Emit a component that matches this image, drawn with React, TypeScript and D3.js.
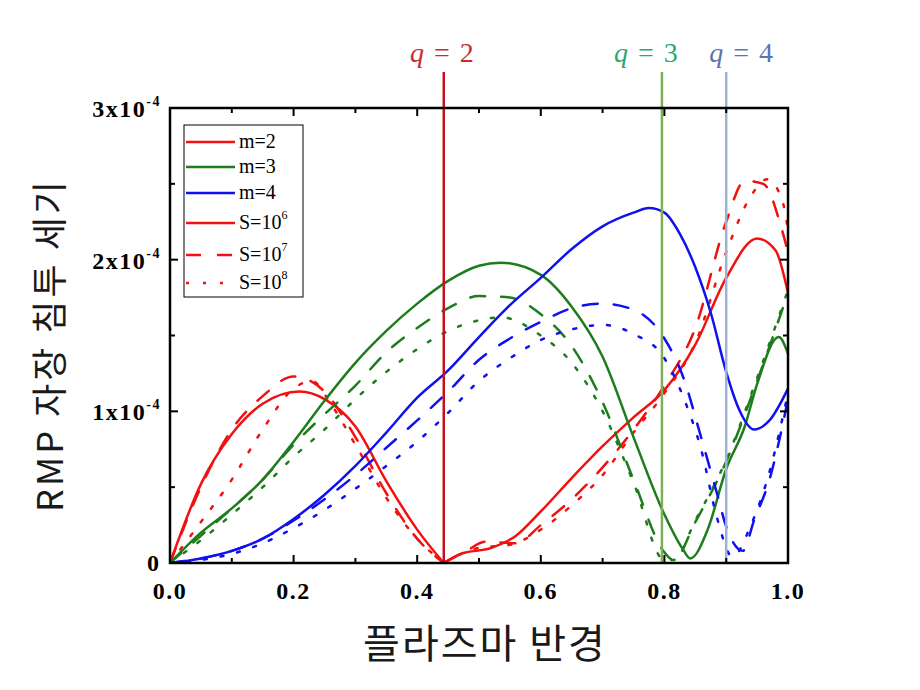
import React from 'react';
import * as d3 from 'd3';

// values in units of 1e-4, x = normalized plasma radius
const m2S6: [number, number][] = [
  [0, 0], [0.05, 0.52], [0.1, 0.85], [0.15, 1.05], [0.21, 1.13], [0.25, 1.08], [0.3, 0.9], [0.35, 0.54], [0.4, 0.22], [0.443, 0],
  [0.47, 0.06], [0.52, 0.1], [0.56, 0.18], [0.6, 0.34], [0.65, 0.56], [0.7, 0.77], [0.75, 0.96], [0.8, 1.14], [0.85, 1.44],
  [0.9, 1.88], [0.95, 2.14], [0.98, 2.06], [1.0, 1.78],
];
const m2S7: [number, number][] = [
  [0, 0], [0.05, 0.5], [0.1, 0.88], [0.15, 1.1], [0.2, 1.23], [0.25, 1.13], [0.3, 0.83], [0.35, 0.46], [0.4, 0.16], [0.443, 0],
  [0.48, 0.08], [0.51, 0.14], [0.56, 0.13], [0.6, 0.25], [0.65, 0.42], [0.7, 0.63], [0.75, 0.88], [0.8, 1.17], [0.85, 1.55],
  [0.9, 2.25], [0.93, 2.52], [0.96, 2.5], [0.99, 2.2], [1.0, 2.05],
];
const m2S8: [number, number][] = [
  [0, 0], [0.05, 0.27], [0.1, 0.55], [0.15, 0.88], [0.2, 1.15], [0.23, 1.2], [0.26, 1.05], [0.3, 0.78], [0.35, 0.43], [0.4, 0.16], [0.443, 0],
  [0.5, 0.1], [0.55, 0.12], [0.6, 0.22], [0.65, 0.38], [0.7, 0.58], [0.75, 0.86], [0.8, 1.12], [0.85, 1.45],
  [0.9, 2.05], [0.94, 2.42], [0.966, 2.53], [0.99, 2.4], [1.0, 2.2],
];
const m3S6: [number, number][] = [
  [0, 0], [0.05, 0.2], [0.1, 0.36], [0.15, 0.55], [0.2, 0.8], [0.25, 1.07], [0.3, 1.32], [0.35, 1.53], [0.4, 1.71], [0.45, 1.86],
  [0.5, 1.96], [0.535, 1.98], [0.6, 1.9], [0.65, 1.69], [0.7, 1.36], [0.75, 0.83], [0.8, 0.32], [0.83, 0.09], [0.842, 0.03],
  [0.87, 0.22], [0.9, 0.62], [0.93, 0.9], [0.95, 1.18], [0.985, 1.49], [1.0, 1.38],
];
const m3S7: [number, number][] = [
  [0, 0], [0.05, 0.18], [0.1, 0.36], [0.15, 0.55], [0.2, 0.78], [0.25, 0.98], [0.3, 1.17], [0.35, 1.39], [0.4, 1.55], [0.45, 1.68],
  [0.5, 1.76], [0.55, 1.75], [0.6, 1.64], [0.65, 1.43], [0.7, 1.06], [0.75, 0.55], [0.8, 0.07], [0.815, 0.02],
  [0.85, 0.27], [0.9, 0.67], [0.95, 1.2], [1.0, 1.78],
];
const m3S8: [number, number][] = [
  [0, 0], [0.05, 0.15], [0.1, 0.32], [0.15, 0.5], [0.2, 0.7], [0.25, 0.88], [0.3, 1.08], [0.35, 1.26], [0.4, 1.41], [0.45, 1.53],
  [0.5, 1.6], [0.535, 1.62], [0.6, 1.5], [0.65, 1.32], [0.7, 1.0], [0.75, 0.53], [0.8, 0.02], [0.815, 0.02],
  [0.85, 0.28], [0.9, 0.68], [0.95, 1.22], [1.0, 1.8],
];
const m4S6: [number, number][] = [
  [0, 0], [0.05, 0.03], [0.1, 0.08], [0.15, 0.16], [0.2, 0.29], [0.25, 0.45], [0.3, 0.64], [0.35, 0.86], [0.4, 1.09], [0.45, 1.27],
  [0.5, 1.49], [0.55, 1.7], [0.6, 1.88], [0.65, 2.07], [0.7, 2.22], [0.75, 2.31], [0.775, 2.34], [0.8, 2.31], [0.825, 2.17],
  [0.85, 1.95], [0.875, 1.65], [0.9, 1.26], [0.92, 1.02], [0.945, 0.88], [0.97, 0.94], [1.0, 1.15],
];
const m4S7: [number, number][] = [
  [0, 0], [0.05, 0.03], [0.1, 0.08], [0.15, 0.16], [0.2, 0.28], [0.25, 0.42], [0.3, 0.58], [0.35, 0.76], [0.4, 0.94], [0.45, 1.13],
  [0.5, 1.34], [0.55, 1.48], [0.6, 1.59], [0.65, 1.68], [0.7, 1.71], [0.75, 1.67], [0.8, 1.48], [0.83, 1.23], [0.86, 0.82],
  [0.885, 0.46], [0.9, 0.24], [0.927, 0.08], [0.945, 0.28], [0.97, 0.55], [1.0, 1.08],
];
const m4S8: [number, number][] = [
  [0, 0], [0.05, 0.02], [0.1, 0.06], [0.15, 0.13], [0.2, 0.23], [0.25, 0.35], [0.3, 0.49], [0.35, 0.64], [0.4, 0.8], [0.45, 0.99],
  [0.5, 1.2], [0.55, 1.35], [0.6, 1.47], [0.65, 1.54], [0.7, 1.57], [0.75, 1.51], [0.8, 1.35], [0.83, 1.1], [0.86, 0.74],
  [0.885, 0.3], [0.91, 0.04], [0.94, 0.25], [0.97, 0.6], [1.0, 1.12],
];

const modeColors = { m2: '#f21010', m3: '#1d7d1d', m4: '#1010f0' };
const dashStyles = { S6: 'none', S7: '15,16', S8: '3,14' };

const series = [
  { data: m2S6, color: modeColors.m2, dash: dashStyles.S6 },
  { data: m2S7, color: modeColors.m2, dash: dashStyles.S7 },
  { data: m2S8, color: modeColors.m2, dash: dashStyles.S8 },
  { data: m3S6, color: modeColors.m3, dash: dashStyles.S6 },
  { data: m3S7, color: modeColors.m3, dash: dashStyles.S7 },
  { data: m3S8, color: modeColors.m3, dash: dashStyles.S8 },
  { data: m4S6, color: modeColors.m4, dash: dashStyles.S6 },
  { data: m4S7, color: modeColors.m4, dash: dashStyles.S7 },
  { data: m4S8, color: modeColors.m4, dash: dashStyles.S8 },
];

const qSurfaces = [
  { q: '2', r: 0.443, line: '#c4121c', text: '#cc2a30' },
  { q: '3', r: 0.796, line: '#7fae55', text: '#2aa870' },
  { q: '4', r: 0.9, line: '#9db2d2', text: '#5a74b2' },
];
// label nudges (px) so q=3 and q=4 labels don't collide
const qLabelShift: Record<string, number> = { '2': -2, '3': -16, '4': 15 };

const xTicks = ['0.0', '0.2', '0.4', '0.6', '0.8', '1.0'];
const yTicks = [0, 1, 2, 3];

const legendItems = [
  { label: 'm=2', sup: '', color: modeColors.m2, dash: dashStyles.S6 },
  { label: 'm=3', sup: '', color: modeColors.m3, dash: dashStyles.S6 },
  { label: 'm=4', sup: '', color: modeColors.m4, dash: dashStyles.S6 },
  { label: 'S=10', sup: '6', color: modeColors.m2, dash: dashStyles.S6 },
  { label: 'S=10', sup: '7', color: modeColors.m2, dash: dashStyles.S7 },
  { label: 'S=10', sup: '8', color: modeColors.m2, dash: dashStyles.S8 },
];

const x = d3.scaleLinear().domain([0, 1]).range([170, 788]);
const y = d3.scaleLinear().domain([0, 3]).range([563, 108]);

// split at interior zeros so the cusp stays sharp
function splitAtZeros(d: [number, number][]) {
  const parts: [number, number][][] = [];
  let cur: [number, number][] = [];
  d.forEach((p, i) => {
    cur.push(p);
    if (p[1] === 0 && i > 0 && i < d.length - 1) {
      parts.push(cur);
      cur = [p];
    }
  });
  parts.push(cur);
  return parts;
}

const line = d3
  .line<[number, number]>()
  .x((d) => x(d[0]))
  .y((d) => y(d[1]))
  .curve(d3.curveMonotoneX);

const serif = '"Liberation Serif", "Times New Roman", serif';
const kor = '"Noto Sans CJK KR", "Noto Sans", sans-serif';

export default function App() {
  const x0 = x(0), x1 = x(1), y0 = y(0), y1 = y(3);
  const minorX = d3.range(0, 11).map((i) => i / 10);
  const minorY = d3.range(0, 7).map((i) => i / 2);

  return (
    <svg width={920} height={690} style={{ position: 'absolute', left: 0, top: 0, background: '#fff' }}>
      <defs>
        <clipPath id="plot">
          <rect x={x0} y={y1} width={x1 - x0} height={y0 - y1} />
        </clipPath>
      </defs>

      {/* curves */}
      <g clipPath="url(#plot)" fill="none" strokeWidth={2.5} strokeLinecap="round">
        {series.map((s, i) =>
          splitAtZeros(s.data).map((part, j) => (
            <path
              key={`${i}-${j}`}
              d={line(part) || ''}
              stroke={s.color}
              strokeDasharray={s.dash}
            />
          ))
        )}
      </g>

      {/* rational surfaces */}
      {qSurfaces.map((q) => (
        <g key={q.q}>
          <line x1={x(q.r)} x2={x(q.r)} y1={72} y2={y0} stroke={q.line} strokeWidth={2.5} />
          <text
            x={x(q.r) + qLabelShift[q.q]}
            y={62}
            textAnchor="middle"
            fontFamily={serif}
            fontSize={28}
            fill={q.text}
          >
            <tspan fontStyle="italic">q</tspan>
            <tspan dx={10}>=</tspan>
            <tspan dx={10}>{q.q}</tspan>
          </text>
        </g>
      ))}

      {/* frame and ticks */}
      <rect x={x0} y={y1} width={x1 - x0} height={y0 - y1} fill="none" stroke="#000" strokeWidth={2.5} />
      {minorX.map((v, i) => {
        const len = i % 2 === 0 ? 8 : 5;
        return (
          <g key={'tx' + i} stroke="#000" strokeWidth={2}>
            <line x1={x(v)} x2={x(v)} y1={y0} y2={y0 - len} />
            <line x1={x(v)} x2={x(v)} y1={y1} y2={y1 + len} />
          </g>
        );
      })}
      {minorY.map((v, i) => {
        const len = i % 2 === 0 ? 8 : 5;
        return (
          <g key={'ty' + i} stroke="#000" strokeWidth={2}>
            <line x1={x0} x2={x0 + len} y1={y(v)} y2={y(v)} />
            <line x1={x1} x2={x1 - len} y1={y(v)} y2={y(v)} />
          </g>
        );
      })}

      {/* tick labels */}
      {xTicks.map((t) => (
        <text key={t} x={x(+t)} y={599} textAnchor="middle" fontFamily={serif} fontWeight="bold" fontSize={24} letterSpacing={1.5}>
          {t}
        </text>
      ))}
      {yTicks.map((v) =>
        v === 0 ? (
          <text key={v} x={159} y={y(v) + 8} textAnchor="end" fontFamily={serif} fontWeight="bold" fontSize={24}>
            0
          </text>
        ) : (
          <text key={v} x={161} y={y(v) + 9} textAnchor="end" fontFamily={serif} fontWeight="bold" fontSize={24} letterSpacing={1.5}>
            {v}x10
            <tspan fontSize={14} dy={-11}>-4</tspan>
          </text>
        )
      )}

      {/* legend */}
      <rect x={184} y={125} width={119} height={172} fill="#fff" stroke="#000" strokeWidth={1} />
      {legendItems.map((it, i) => {
        const rowY = [142, 167, 193, 223, 255, 283][i];
        return (
          <g key={i}>
            <line x1={186} x2={235} y1={rowY} y2={rowY} stroke={it.color} strokeWidth={2.5} strokeDasharray={it.dash} />
            <text x={239} y={rowY + 6} fontFamily={serif} fontSize={20}>
              {it.label}
              {it.sup && (
                <tspan fontSize={12} dy={-10}>
                  {it.sup}
                </tspan>
              )}
            </text>
          </g>
        );
      })}

      {/* axis titles */}
      <text
        transform="translate(63,345) rotate(-90)"
        textAnchor="middle"
        fontFamily={kor}
        fontSize={36}
        letterSpacing={3}
        fill="#1a1a1a"
      >
        RMP 자장 침투 세기
      </text>
      <text x={485} y={658} textAnchor="middle" fontFamily={kor} fontSize={40} letterSpacing={2} fill="#1a1a1a">
        플라즈마 반경
      </text>
    </svg>
  );
}
